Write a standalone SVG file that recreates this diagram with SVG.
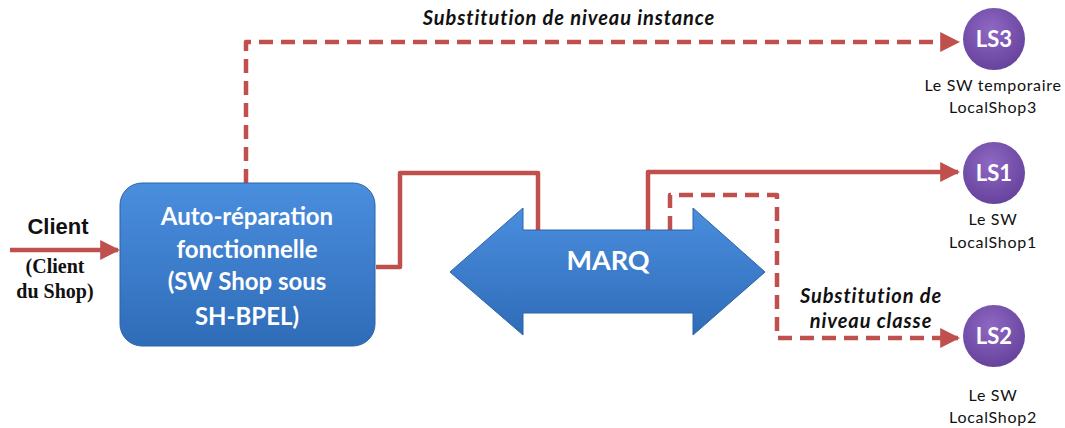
<svg xmlns="http://www.w3.org/2000/svg" width="1065" height="428" viewBox="0 0 1065 428">
<style>
.ln{fill:none;stroke:#c0504d;stroke-width:4.5;stroke-linejoin:round}
.dash{stroke-dasharray:14 8}
.wt{fill:#fff;font-family:Lato,"Open Sans",sans-serif;font-weight:bold;text-anchor:middle}
.lbl{fill:#111;font-family:Lato,"Open Sans",sans-serif;font-size:16px;letter-spacing:0.7px;text-anchor:middle}
.sub{fill:#111;font-family:Lato,"Open Sans",sans-serif;font-size:20px;letter-spacing:0.9px;font-weight:bold;font-style:italic;text-anchor:middle}
.cl{fill:#111;font-family:'Liberation Serif','Times New Roman',serif;font-size:20px;font-weight:bold;text-anchor:middle}
</style>
<defs>
<marker id="ah" viewBox="0 0 10 10" refX="9" refY="5" markerWidth="4.4" markerHeight="4.4" markerUnits="strokeWidth" orient="auto">
<path d="M0,0 L10,5 L0,10 Z" fill="#c0504d"/>
</marker>
<linearGradient id="gb" x1="0" y1="0" x2="0" y2="1">
<stop offset="0" stop-color="#4a8ede"/>
<stop offset="1" stop-color="#2f6cb8"/>
</linearGradient>
<radialGradient id="gp" cx="0.45" cy="0.35" r="0.7">
<stop offset="0" stop-color="#8f68c2"/>
<stop offset="1" stop-color="#63409a"/>
</radialGradient>
</defs>
<g id="connectors">
<line class="ln" x1="10" y1="250" x2="118" y2="250" marker-end="url(#ah)"/>
<path class="ln dash" d="M246,183 V42 H958" marker-end="url(#ah)"/>
<path class="ln" d="M376,267 H400 V173 H538 V230"/>
<path class="ln" d="M648,230 V172 H958" marker-end="url(#ah)"/>
<path class="ln dash" d="M670,230 V195 H777 V338 H958" marker-end="url(#ah)"/>
</g>
<g id="client">
<text x="58" y="234" style="font-family:'Liberation Sans',Arial,sans-serif;font-size:22px;font-weight:bold;text-anchor:middle" fill="#111">Client</text>
<text class="cl" x="55" y="273">(Client</text>
<text class="cl" x="55" y="298">du Shop)</text>
</g>
<g id="auto-reparation">
<rect x="120" y="183" width="255" height="163" rx="22" fill="url(#gb)" stroke="#2d62a6" stroke-width="1"/>
<text class="wt" x="247" y="225" font-size="24">Auto-réparation</text>
<text class="wt" x="247" y="258" font-size="24">fonctionnelle</text>
<text class="wt" x="247" y="290" font-size="24">(SW Shop sous</text>
<text class="wt" x="247" y="325" font-size="24">SH-BPEL)</text>
</g>
<g id="marq">
<path d="M450,272 L523,208 V230 H693 V208 L765,272 L693,335 V313 H523 V335 Z" fill="url(#gb)" stroke="#2d62a6" stroke-width="1"/>
<text class="wt" x="608" y="270" font-size="27">MARQ</text>
</g>
<g id="ls3">
<circle cx="994" cy="39" r="31" fill="url(#gp)"/>
<text class="wt" x="994" y="47" font-size="22">LS3</text>
<text class="lbl" x="993" y="91">Le SW temporaire</text>
<text class="lbl" x="993" y="113">LocalShop3</text>
</g>
<g id="ls1">
<circle cx="994" cy="173" r="31" fill="url(#gp)"/>
<text class="wt" x="994" y="181" font-size="22">LS1</text>
<text class="lbl" x="993" y="225">Le SW</text>
<text class="lbl" x="993" y="248">LocalShop1</text>
</g>
<g id="ls2">
<circle cx="994" cy="336" r="31" fill="url(#gp)"/>
<text class="wt" x="994" y="344" font-size="22">LS2</text>
<text class="lbl" x="993" y="401">Le SW</text>
<text class="lbl" x="993" y="423">LocalShop2</text>
</g>
<g id="labels">
<text class="sub" x="569" y="25">Substitution de niveau instance</text>
<text class="sub" x="871" y="303">Substitution de</text>
<text class="sub" x="871" y="328">niveau classe</text>
</g>
</svg>
